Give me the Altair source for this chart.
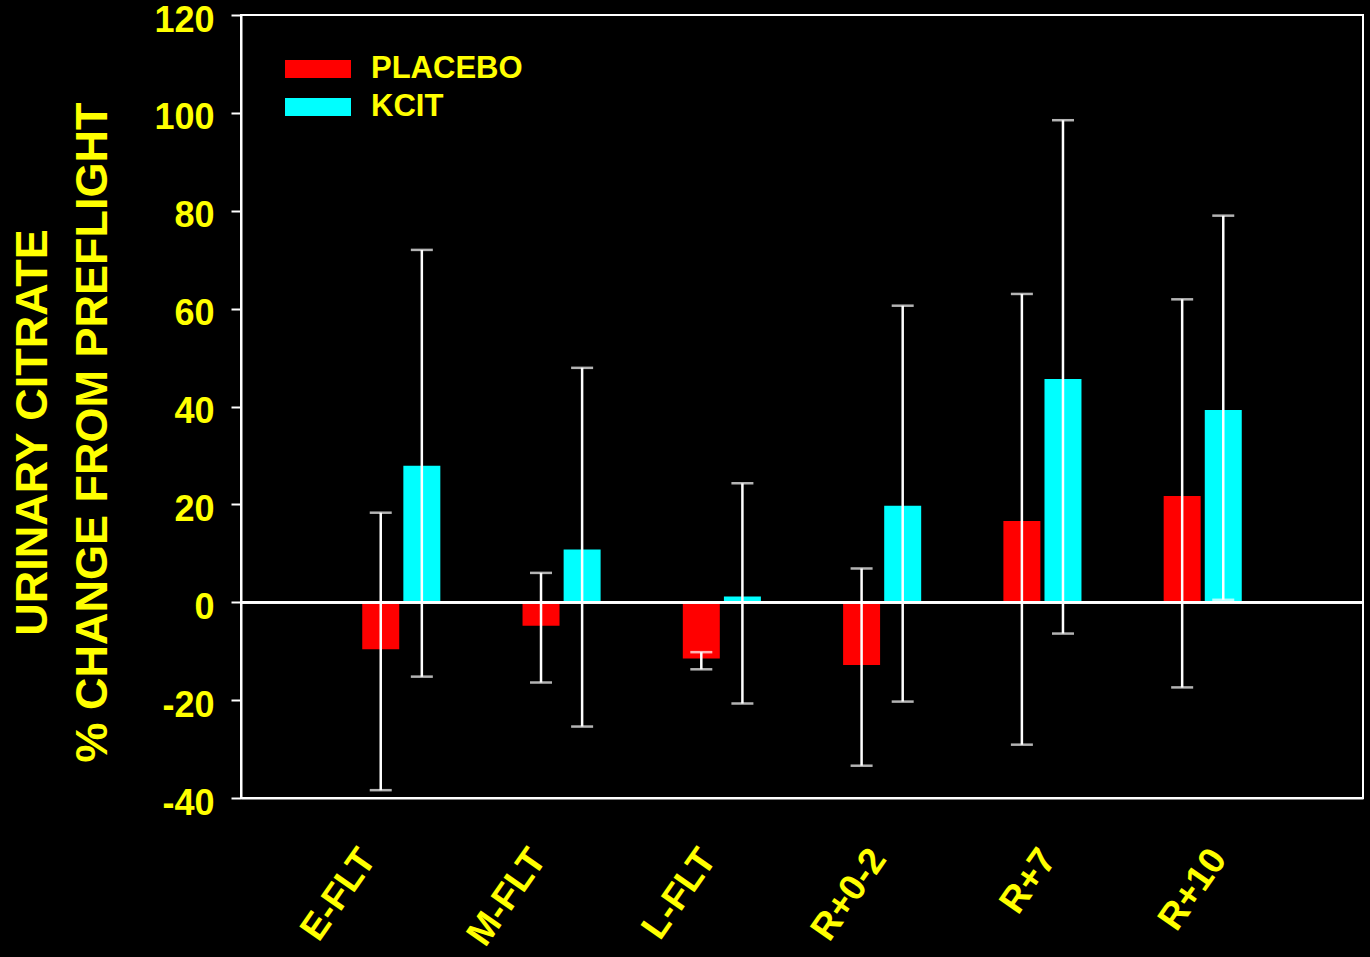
import altair as alt
import pandas as pd

# Flight / recovery periods and treatment groups
periods = ["E-FLT", "M-FLT", "L-FLT", "R+0-2", "R+7", "R+10"]
groups = ["PLACEBO", "KCIT"]

# Mean % change from preflight with lower / upper error-bar ends
placebo_mean = [-9.6, -4.8, -11.5, -12.8, 16.6, 21.7]
placebo_low = [-38.4, -16.4, -13.7, -33.4, -29.1, -17.4]
placebo_high = [18.3, 6.0, -10.2, 6.9, 63.0, 61.9]

kcit_mean = [27.9, 10.8, 1.2, 19.7, 45.6, 39.3]
kcit_low = [-15.2, -25.4, -20.7, -20.3, -6.4, 0.5]
kcit_high = [72.0, 47.9, 24.3, 60.6, 98.5, 79.0]

y_ticks = [-40, -20, 0, 20, 40, 60, 80, 100, 120]

FONT = "Liberation Sans"
YELLOW = "#FFFF00"
WHITE = "#FFFFFF"

rows = []
for g, means, lows, highs in [
    ("PLACEBO", placebo_mean, placebo_low, placebo_high),
    ("KCIT", kcit_mean, kcit_low, kcit_high),
]:
    for p, m, lo, hi in zip(periods, means, lows, highs):
        rows.append({"period": p, "group": g, "mean": m, "low": lo, "high": hi})
df = pd.DataFrame(rows)

x_enc = alt.X(
    "period:N",
    sort=periods,
    scale=alt.Scale(paddingInner=0, paddingOuter=0.5),
    axis=alt.Axis(
        title=None,
        labelAngle=-55,
        labelAlign="right",
        labelBaseline="alphabetic",
        labelFontSize=37,
        labelFont=FONT,
        labelFontWeight="bold",
        labelColor=YELLOW,
        labelPadding=61,
        labelOffset={"expr": "-24 + 49 * datum.index"},
        labelOverlap=False,
        labelFlush=False,
        labelBound=False,
        ticks=False,
        tickSize=0,
        domainColor=WHITE,
        domainWidth=2,
    ),
)
xoff_enc = alt.XOffset(
    "group:N", sort=groups, scale=alt.Scale(paddingInner=0.1, paddingOuter=1)
)
y_scale = alt.Scale(domain=[-40, 120], nice=False, zero=False)

base = alt.Chart(df).encode(x=x_enc, xOffset=xoff_enc)

bars = base.mark_bar().encode(
    y=alt.Y(
        "mean:Q",
        scale=y_scale,
        axis=alt.Axis(
            values=y_ticks,
            labelExpr="'' + datum.value",
            title=["URINARY CITRATE", "% CHANGE FROM PREFLIGHT"],
            titleFont=FONT,
            titleFontSize=45,
            titleFontWeight="bold",
            titleColor=YELLOW,
            titleLineHeight=60,
            titleAngle=270,
            titleAlign="center",
            titleBaseline="alphabetic",
            titleX=-195,
            titleY=417,
            labelFont=FONT,
            labelFontSize=36,
            labelFontWeight="bold",
            labelColor=YELLOW,
            labelPadding=17,
            labelOffset=5,
            tickSize=10,
            tickWidth=2,
            tickColor=WHITE,
            domainColor=WHITE,
            domainWidth=2,
            grid=False,
        ),
    ),
    y2=alt.datum(0),
    color=alt.Color(
        "group:N",
        sort=groups,
        scale=alt.Scale(domain=groups, range=["#FF0000", "#00FFFF"]),
        legend=alt.Legend(
            title=None,
            orient="none",
            legendX=44,
            legendY=38,
            symbolType="M-1,-0.27H1V0.27H-1Z",
            symbolSize=4356,
            symbolStrokeWidth=0,
            symbolOpacity=1,
            clipHeight=32,
            labelFont=FONT,
            labelFontSize=31,
            labelFontWeight="bold",
            labelColor=YELLOW,
            labelOffset=20,
            rowPadding=6,
            padding=0,
        ),
    ),
)

zero_line = alt.Chart(df).mark_rule(color=WHITE, strokeWidth=2).encode(
    y=alt.datum(0, scale=y_scale)
)

whiskers = base.mark_rule(color=WHITE, strokeWidth=2.5).encode(
    y=alt.Y("low:Q", scale=y_scale), y2="high:Q"
)
caps_low = base.mark_tick(color=WHITE, size=22, thickness=2.5, orient="horizontal").encode(
    y=alt.Y("low:Q", scale=y_scale)
)
caps_high = base.mark_tick(color=WHITE, size=22, thickness=2.5, orient="horizontal").encode(
    y=alt.Y("high:Q", scale=y_scale)
)

chart = (
    alt.layer(bars, zero_line, whiskers, caps_low, caps_high)
    .properties(
        width=1122,
        height=783,
        background="#000000",
        autosize=alt.AutoSizeParams(type="none"),
        padding={"left": 241, "top": 15, "right": 7, "bottom": 159},
    )
    .configure_view(stroke=WHITE, strokeWidth=2)
)

chart.save("out.html", embed_options={"renderer": "svg", "actions": False})
